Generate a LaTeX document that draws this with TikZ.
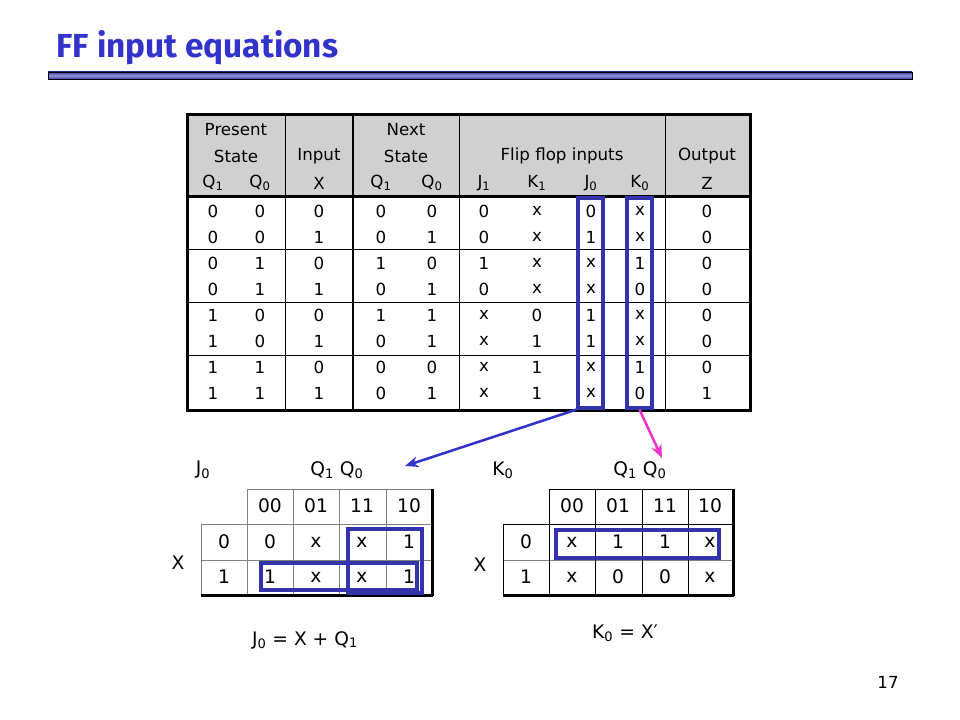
\documentclass[tikz,border=0pt]{standalone}
\usepackage{fontspec}
\setmainfont{DejaVu Sans}
\newfontfamily\titlefont{Fira Sans}
\usetikzlibrary{arrows.meta}

\definecolor{slideblue}{RGB}{51,51,204}
\definecolor{loopblue}{RGB}{51,51,170}
\definecolor{hdrgray}{RGB}{208,208,208}
\definecolor{pinkarrow}{RGB}{238,51,204}
\definecolor{bardark}{RGB}{60,60,160}
\definecolor{barlight}{RGB}{150,150,225}

\newcommand{\ssub}[1]{\textsubscript{#1}}

\tikzset{
  cell/.style={inner sep=0pt, font=\fontsize{12.5}{14}\selectfont},
  kcell/.style={inner sep=0pt, font=\fontsize{14}{16}\selectfont},
  colbox/.style={draw=loopblue, line width=2.4pt, minimum width=18.75pt, minimum height=157.5pt, inner sep=0pt},
  loopline/.style={draw=loopblue, line width=2.4pt},
  kgrid/.style={line width=0.75pt},
  kedge/.style={line width=2.25pt},
}

\begin{document}
\begin{tikzpicture}[x=0.75pt,y=0.75pt,yscale=-1,xscale=1]
			\useasboundingbox (0,0) rectangle (960,720);

			%Title
			\node [anchor=west, text=slideblue, font=\titlefont\bfseries\fontsize{25}{30}\selectfont] (title) at (52,48) {FF input equations};
			%Shape: Rectangle (title bar)
			\draw [line width=0.6pt, top color=bardark, bottom color=bardark, middle color=barlight] (48,72) rectangle (912,79);

			%Shape: Rectangle (table header)
			\fill [hdrgray] (187,115) rectangle (750,197);
			%Straight Lines (row groups)
			\draw [line width=0.75pt] (187,250) -- (750,250);
			\draw [line width=0.75pt] (187,303) -- (750,303);
			\draw [line width=0.75pt] (187,355) -- (750,355);
			%Straight Lines (columns)
			\draw [line width=0.75pt] (285,115) -- (285,410);
			\draw [line width=1.2pt] (353,115) -- (353,410);
			\draw [line width=0.75pt] (459,115) -- (459,410);
			\draw [line width=0.75pt] (665,115) -- (665,410);
			\draw [line width=2.25pt] (187,197) -- (750,197);
			%Shape: Rectangle (table frame)
			\draw [line width=2.25pt] (187,115) rectangle (750,410);

			%Header texts
			\node [cell] (hpres) at (236,130) {Present};
			\node [cell] (hstate) at (236,156) {State};
			\node [cell] (hinput) at (319,156) {Input};
			\node [cell] (hnext) at (406,130) {Next};
			\node [cell] (hnstate) at (406,156) {State};
			\node [cell] (hff) at (562,156) {Flip flop inputs};
			\node [cell] (hout) at (707,156) {Output};
			\node [cell] (hq1) at (213,183) {Q\ssub{1}};
			\node [cell] (hq0) at (260,183) {Q\ssub{0}};
			\node [cell] (hx) at (319,183) {X};
			\node [cell] (hnq1) at (381,183) {Q\ssub{1}};
			\node [cell] (hnq0) at (432,183) {Q\ssub{0}};
			\node [cell] (hj1) at (484,183) {J\ssub{1}};
			\node [cell] (hk1) at (537,183) {K\ssub{1}};
			\node [cell] (hj0) at (591,183) {J\ssub{0}};
			\node [cell] (hk0) at (640,183) {K\ssub{0}};
			\node [cell] (hz) at (707,183) {Z};

			%Table rows
			\foreach \r/\a/\b/\c/\d/\e/\f/\g/\h/\i/\j in {
				1/0/0/0/0/0/0/x/0/x/0,
				2/0/0/1/0/1/0/x/1/x/0,
				3/0/1/0/1/0/1/x/x/1/0,
				4/0/1/1/0/1/0/x/x/0/0,
				5/1/0/0/1/1/x/0/1/x/0,
				6/1/0/1/0/1/x/1/1/x/0,
				7/1/1/0/0/0/x/1/x/1/0,
				8/1/1/1/0/1/x/1/x/0/1}
			{
				\pgfmathsetmacro\y{185+26*\r}
				\node [cell] (q1-\r) at (213,\y) {\a};
				\node [cell] (q0-\r) at (260,\y) {\b};
				\node [cell] (x-\r) at (319,\y) {\c};
				\node [cell] (nq1-\r) at (381,\y) {\d};
				\node [cell] (nq0-\r) at (432,\y) {\e};
				\node [cell] (j1-\r) at (484,\y) {\f};
				\node [cell] (k1-\r) at (537,\y) {\g};
				\node [cell] (j0-\r) at (591,\y) {\h};
				\node [cell] (k0-\r) at (640,\y) {\i};
				\node [cell] (z-\r) at (707,\y) {\j};
			}

			%Shape: Rectangle (J0 and K0 columns)
			\node [colbox] (j0col) at (590.5,303) {};
			\node [colbox] (k0col) at (639.5,303) {};

			%Arrow ends
			\coordinate (j0map) at (405,466);
			\coordinate (k0map) at (662,458);
			%Straight Lines [arrows]
			\draw [slideblue, line width=1.9pt, -{Stealth[length=10pt,width=8pt]}] (j0col.south west) -- (j0map);
			\draw [pinkarrow, line width=1.9pt, -{Stealth[length=10pt,width=8pt]}] (k0col.south) -- (k0map);

			%K-map J0 grid
			\draw [kgrid, gray] (247,489) -- (432,489);
			\draw [kgrid, gray] (201,524) -- (432,524);
			\draw [kgrid, gray] (201,560) -- (432,560);
			\draw [kgrid, gray] (201,524) -- (201,595);
			\foreach \x in {247,293,339,386} \draw [kgrid, gray] (\x,489) -- (\x,595);
			\draw [kedge] (201,595) -- (433,595);
			\draw [kedge] (432,489) -- (432,596);

			%K-map J0 labels
			\node [kcell] (j0name) at (203,470) {J\ssub{0}};
			\node [kcell] (j0vars) at (337,470) {Q\ssub{1} Q\ssub{0}};
			\node [kcell] (j0x) at (178,563) {X};
			\node [kcell] (j0c00) at (270,506) {00};
			\node [kcell] (j0c01) at (316,506) {01};
			\node [kcell] (j0c11) at (362,506) {11};
			\node [kcell] (j0c10) at (409,506) {10};
			\node [kcell] (j0r0) at (224,542) {0};
			\node [kcell] (j0r1) at (224,577) {1};
			\node [kcell] (j0m0) at (270,542) {0};
			\node [kcell] (j0m2) at (316,542) {x};
			\node [kcell] (j0m6) at (362,542) {x};
			\node [kcell] (j0m4) at (409,542) {1};
			\node [kcell] (j0m1) at (270,577) {1};
			\node [kcell] (j0m3) at (316,577) {x};
			\node [kcell] (j0m7) at (362,577) {x};
			\node [kcell] (j0m5) at (409,577) {1};
			%Shape: Rectangle (loops)
			\draw [loopline] (348,529) rectangle (422,593);
			\draw [loopline] (261,563) rectangle (417,590);
			\node [kcell] (j0eq) at (305,640) {J\ssub{0} = X + Q\ssub{1}};

			%K-map K0 grid
			\draw [kgrid] (549,489) -- (733,489);
			\draw [kgrid] (503,524) -- (733,524);
			\draw [kgrid, gray] (503,560) -- (733,560);
			\draw [kgrid] (503,524) -- (503,595);
			\foreach \x in {549,595,642,688} \draw [kgrid] (\x,489) -- (\x,595);
			\draw [kedge] (503,595) -- (734,595);
			\draw [kedge] (733,489) -- (733,596);

			%K-map K0 labels
			\node [kcell] (k0name) at (503,470) {K\ssub{0}};
			\node [kcell] (k0vars) at (640,470) {Q\ssub{1} Q\ssub{0}};
			\node [kcell] (k0x) at (480,565) {X};
			\node [kcell] (k0c00) at (572,506) {00};
			\node [kcell] (k0c01) at (618,506) {01};
			\node [kcell] (k0c11) at (665,506) {11};
			\node [kcell] (k0c10) at (710,506) {10};
			\node [kcell] (k0r0) at (526,542) {0};
			\node [kcell] (k0r1) at (526,577) {1};
			\node [kcell] (k0m0) at (572,542) {x};
			\node [kcell] (k0m2) at (618,542) {1};
			\node [kcell] (k0m6) at (665,542) {1};
			\node [kcell] (k0m4) at (710,542) {x};
			\node [kcell] (k0m1) at (572,577) {x};
			\node [kcell] (k0m3) at (618,577) {0};
			\node [kcell] (k0m7) at (665,577) {0};
			\node [kcell] (k0m5) at (710,577) {x};
			%Shape: Rectangle (loop)
			\draw [loopline] (556,530) rectangle (719,558);
			\node [kcell] (k0eq) at (625,633) {K\ssub{0} = X′};

			%Page number
			\node [cell] (pagenum) at (888,682) {17};
		\end{tikzpicture}
\end{document}
